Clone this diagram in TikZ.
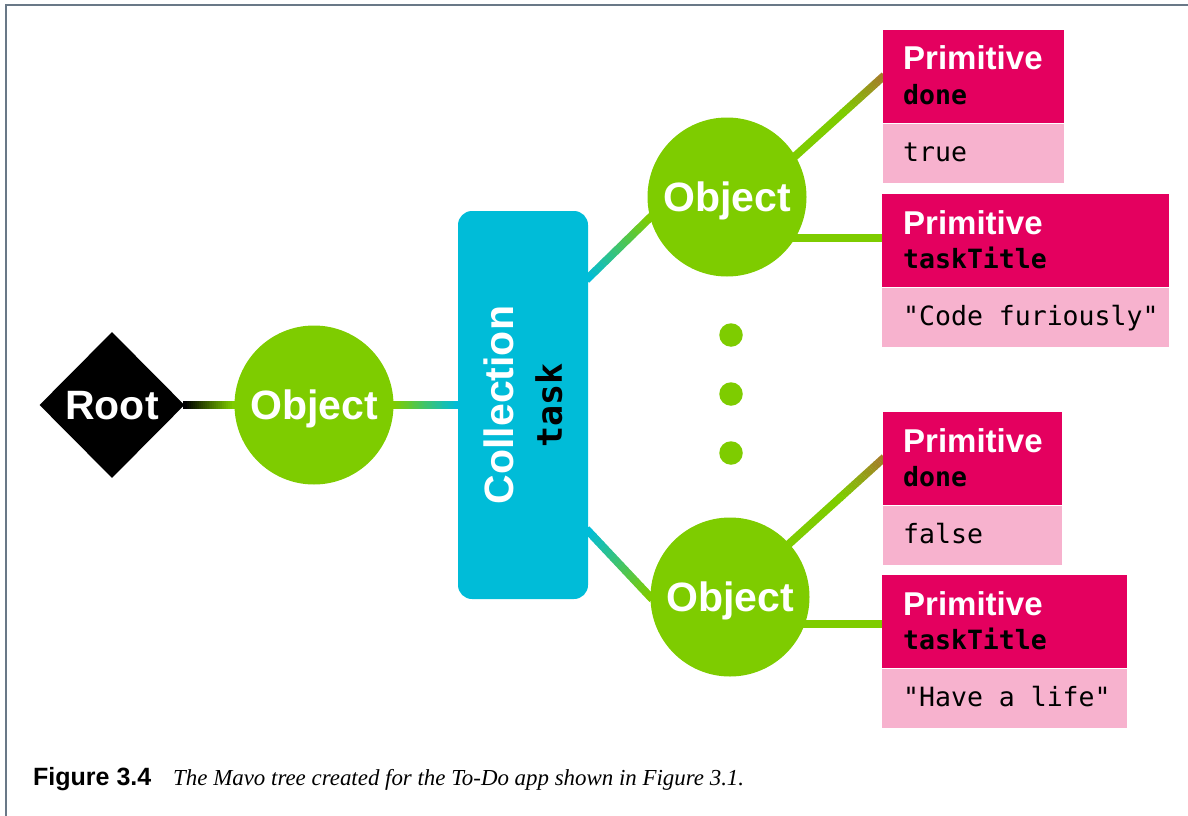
\documentclass[tikz,border=0pt]{standalone}
\usepackage{fontspec}
\setmainfont{Liberation Serif}
\setsansfont{Liberation Sans}
\setmonofont{DejaVu Sans Mono}
\usetikzlibrary{shapes.geometric,calc,backgrounds}
\definecolor{mgreen}{RGB}{126,204,0}
\definecolor{mcyan}{RGB}{0,188,216}
\definecolor{mmag}{RGB}{228,0,95}
\definecolor{mpink}{RGB}{247,178,206}
\definecolor{molive}{RGB}{165,125,40}
\definecolor{framec}{RGB}{105,120,135}
\newcommand\gradline[4]{%
  \foreach \i in {0,...,24}{%
    \pgfmathsetmacro\gs{\i/25-0.03*(\i==0)}%
    \pgfmathsetmacro\ge{(\i+1.1)/25+0.03*(\i==24)}%
    \pgfmathtruncatemacro\gp{100-\i*100/24}%
    \draw[line width=8pt, line cap=butt, color=#3!\gp!#4] ($(#1)!\gs!(#2)$) -- ($(#1)!\ge!(#2)$);
  }}
\tikzset{
  conn/.style={line width=8pt, line cap=butt, color=mgreen},
  rootn/.style={diamond, fill=black, text=white, inner sep=0pt, minimum width=145pt, minimum height=146pt,
    font=\sffamily\bfseries\fontsize{41pt}{41pt}\selectfont, text height=29.4pt, text depth=0pt},
  objn/.style={circle, fill=mgreen, text=white, inner sep=0pt, minimum size=159pt,
    font=\sffamily\bfseries\fontsize{41pt}{41pt}\selectfont, text height=29.4pt, text depth=0pt},
  colln/.style={rectangle, rounded corners=14pt, fill=mcyan, minimum width=130pt, minimum height=388pt, inner sep=0pt},
  colltxt/.style={text=white, inner sep=0pt, font=\sffamily\bfseries\fontsize{41pt}{41pt}\selectfont,
    text height=29.4pt, text depth=0pt},
  tasktxt/.style={text=black, inner sep=0pt, font=\ttfamily\bfseries\fontsize{35pt}{35pt}\selectfont,
    text height=26.6pt, text depth=0pt},
  dotn/.style={circle, fill=mgreen, inner sep=0pt, minimum size=23.5pt},
  hdr/.style={rectangle, fill=mmag, anchor=north west, inner sep=0pt, minimum height=93pt},
  valb/.style={rectangle, fill=mpink, anchor=north west, inner sep=0pt, minimum height=59pt},
  primt/.style={anchor=base west, inner sep=0pt, text=white, font=\sffamily\bfseries\fontsize{33pt}{33pt}\selectfont},
  namet/.style={anchor=base west, inner sep=0pt, text=black, font=\ttfamily\bfseries\fontsize{26.5pt}{26.5pt}\selectfont},
  valt/.style={anchor=base west, inner sep=0pt, text=black, font=\ttfamily\fontsize{26.5pt}{26.5pt}\selectfont},
}
\begin{document}
\begin{tikzpicture}[x=1pt, y=-1pt]
\useasboundingbox (0,0) rectangle (1188,816);
% frame
\draw[framec, line width=2.5pt] (1188,5) -- (6,5) -- (6,816);

% nodes
\node[rootn] (root) at (112,405) {Root};
\node[objn] (o1) at (314,405) {Object};
\node[colln] (coll) at (523,405) {};
\node[colltxt, rotate=90] (colllab) at (499,405) {Collection};
\node[tasktxt, rotate=90] (tasklab) at (548.5,405.5) {task};
\node[objn] (o2) at (727,197) {Object};
\node[objn] (o3) at (730,597) {Object};
\node[dotn] (d1) at (731,335) {};
\node[dotn] (d2) at (731,394) {};
\node[dotn] (d3) at (731,453) {};

% primitives
\node[hdr, minimum width=181pt] (p1h) at (883,30) {};
\node[valb, minimum width=181pt] (p1v) at (p1h.south west) {};
\node[primt] (p1a) at ($(p1h.north west)+(20,40)$) {Primitive};
\node[namet] (p1b) at ($(p1h.north west)+(20,74)$) {done};
\node[valt] (p1c) at ($(p1v.north west)+(20,38)$) {true};

\node[hdr, minimum width=287pt] (p2h) at (882,194) {};
\node[valb, minimum width=287pt] (p2v) at (p2h.south west) {};
\node[primt] (p2a) at ($(p2h.north west)+(21,40)$) {Primitive};
\node[namet] (p2b) at ($(p2h.north west)+(21,74)$) {taskTitle};
\node[valt] (p2c) at ($(p2v.north west)+(21,38)$) {"Code furiously"};

\node[hdr, minimum width=179pt] (p3h) at (883,412) {};
\node[valb, minimum width=179pt] (p3v) at (p3h.south west) {};
\node[primt] (p3a) at ($(p3h.north west)+(20,40)$) {Primitive};
\node[namet] (p3b) at ($(p3h.north west)+(20,74)$) {done};
\node[valt] (p3c) at ($(p3v.north west)+(20,38)$) {false};

\node[hdr, minimum width=245pt] (p4h) at (882,575) {};
\node[valb, minimum width=245pt] (p4v) at (p4h.south west) {};
\node[primt] (p4a) at ($(p4h.north west)+(21,40)$) {Primitive};
\node[namet] (p4b) at ($(p4h.north west)+(21,74)$) {taskTitle};
\node[valt] (p4c) at ($(p4v.north west)+(21,38)$) {"Have a life"};

% connectors
\begin{scope}[on background layer]
\gradline{root.east}{o1.west}{black}{mgreen}
\gradline{o1.east}{coll.west}{mgreen}{mcyan}
\coordinate (c1) at ($(coll.east)+(0,-127)$);
\coordinate (c2) at ($(coll.east)+(0,126)$);
\gradline{c1}{o2.195}{mcyan}{mgreen}
\gradline{c2}{o3.180}{mcyan}{mgreen}
\coordinate (m1) at ($(o2.31)!0.55!(p1h.west)$);
\draw[conn] ($(o2.31)!-0.1!(p1h.west)$) -- (m1);
\gradline{m1}{p1h.west}{mgreen}{molive}
\draw[conn] (o2.-31 -| o2.center) -- (o2.-31 -| p2h.west);
\coordinate (m3) at ($(o3.42)!0.55!(p3h.west)$);
\draw[conn] ($(o3.42)!-0.1!(p3h.west)$) -- (m3);
\gradline{m3}{p3h.west}{mgreen}{molive}
\draw[conn] (o3.-20 -| o3.center) -- (o3.-20 -| p4h.west);
\end{scope}

% caption
\node[anchor=base west, inner sep=0pt, font=\sffamily\bfseries\fontsize{25pt}{25pt}\selectfont] (figlab) at (33,785) {Figure 3.4};
\node[anchor=base west, inner sep=0pt, font=\itshape\fontsize{22.9pt}{22.9pt}\selectfont] (figcap) at (173,785) {The Mavo tree created for the To-Do app shown in Figure 3.1.};
\end{tikzpicture}
\end{document}
